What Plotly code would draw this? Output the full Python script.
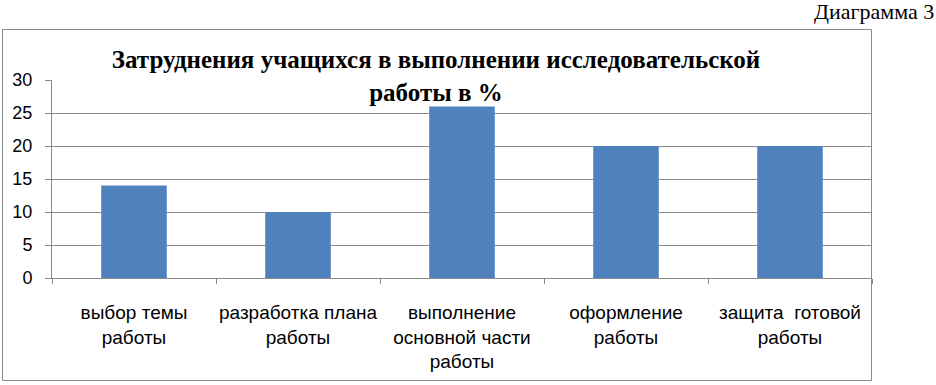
import plotly.graph_objects as go

categories = [
    "выбор темы<br>работы",
    "разработка плана<br>работы",
    "выполнение<br>основной части<br>работы",
    "оформление<br>работы",
    "защита\u00a0 готовой<br>работы",
]
values = [14, 10, 26, 20, 20]
y_ticks = [0, 5, 10, 15, 20, 25, 30]

W, H = 936, 385
L, R, T, B = 52, 64, 80, 107
pw, ph = W - L - R, H - T - B

def px_x(x):
    return (x - L) / pw

def px_y(y):
    return (H - B - y) / ph

fig = go.Figure(
    go.Bar(
        x=categories,
        y=values,
        marker=dict(color="#4F81BD", line=dict(width=0)),
        width=0.4,
    )
)

grid = "#8a8a8a"
fig.update_layout(
    width=W,
    height=H,
    margin=dict(l=L, r=R, t=T, b=B, autoexpand=False),
    paper_bgcolor="white",
    plot_bgcolor="white",
    showlegend=False,
    font=dict(family="Liberation Sans, Arial, sans-serif", size=18, color="black"),
    title=dict(
        text="<b>Затруднения учащихся в выполнении исследовательской<br>работы в %</b>",
        font=dict(family="Liberation Serif, Times New Roman, serif", size=25, color="black"),
        x=436 / W,
        xanchor="center",
        y=1 - 68 / H,
        yanchor="top",
        automargin=False,
    ),
    xaxis=dict(
        showgrid=False,
        showline=True,
        linecolor=grid,
        linewidth=1,
        ticks="outside",
        tickson="boundaries",
        ticklen=5,
        tickcolor=grid,
        ticklabelstandoff=17,
        tickangle=0,
        automargin=False,
        tickfont=dict(size=19),
        fixedrange=True,
    ),
    yaxis=dict(
        range=[0, 30],
        tickvals=y_ticks,
        showgrid=True,
        gridcolor=grid,
        gridwidth=1,
        zeroline=False,
        showline=True,
        linecolor=grid,
        linewidth=1,
        ticks="outside",
        ticklen=6,
        tickcolor=grid,
        ticklabelstandoff=9,
        automargin=False,
        tickfont=dict(size=18),
        fixedrange=True,
    ),
    shapes=[
        dict(
            type="rect",
            xref="paper",
            yref="paper",
            x0=px_x(2.5),
            x1=px_x(871.5),
            y0=px_y(380.5),
            y1=px_y(29.5),
            line=dict(color=grid, width=1),
            fillcolor="rgba(0,0,0,0)",
            layer="below",
        )
    ],
    annotations=[
        dict(
            text="Диаграмма 3",
            xref="paper",
            yref="paper",
            x=px_x(936),
            y=px_y(-3),
            xanchor="right",
            yanchor="top",
            showarrow=False,
            font=dict(family="Liberation Serif, Times New Roman, serif", size=22, color="black"),
        )
    ],
)

fig.write_html(
    "out.html",
    config={"displayModeBar": False},
    post_script="document.body.style.margin='0';document.body.style.overflow='hidden';",
)
